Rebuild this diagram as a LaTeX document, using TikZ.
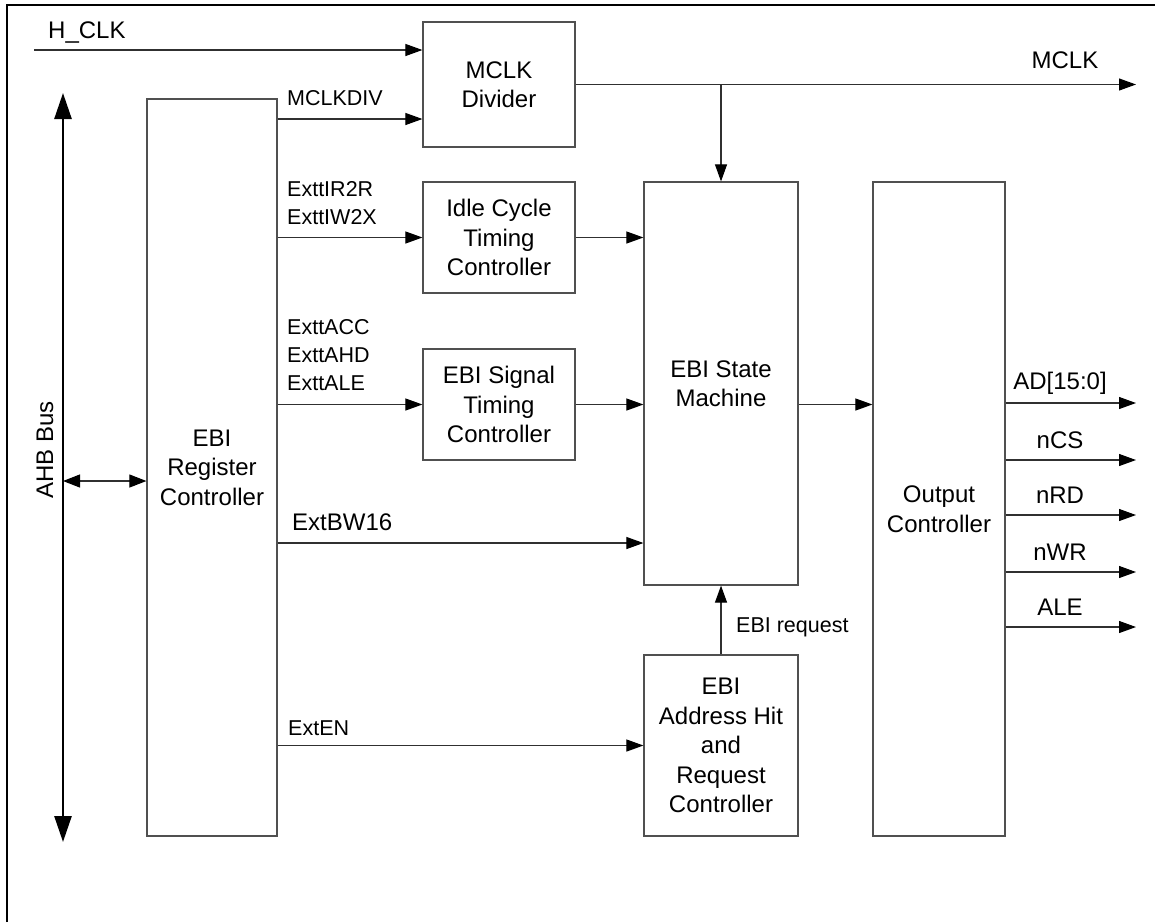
\documentclass[tikz,border=0pt]{standalone}
\usepackage{fontspec}
\setmainfont{Liberation Sans}
\usepackage{xcolor}
\usepackage{tikz}
\usetikzlibrary{arrows.meta,positioning,calc}
\definecolor{cEdge}{HTML}{505050}
\definecolor{cWire}{HTML}{303030}
\newcommand{\bigtxt}{\fontsize{24}{29.5}\selectfont}
\newcommand{\smalltxt}{\fontsize{21.5}{28}\selectfont}
\tikzset{
  blk/.style={draw=cEdge,line width=1.2pt,align=center,font=\bigtxt,inner sep=0pt},
  sig/.style={-{Triangle[length=17pt,width=12pt,color=black]},line width=1.1pt,color=cWire},
  dsig/.style={{Triangle[length=17pt,width=13pt,color=black]}-{Triangle[length=17pt,width=13pt,color=black]},line width=1.1pt,color=cWire},
  bus/.style={{Triangle[length=26pt,width=17pt]}-{Triangle[length=26pt,width=17pt]},line width=2.6pt,color=black},
  lbl/.style={font=\smalltxt,align=left,inner sep=0pt,anchor=west},
  biglbl/.style={font=\bigtxt,inner sep=0pt},
}

\begin{document}
\begin{tikzpicture}[x=1pt,y=-1pt]
    \useasboundingbox (0,0) rectangle (1155,922);
    % frame
    \draw[line width=2.5pt] (7,922) -- (7,5) -- (1155,5);
    % blocks
    \node[blk,minimum width=130pt,minimum height=737pt] (reg) at (212,467.5) {EBI\\Register\\Controller};
    \node[blk,minimum width=152pt,minimum height=125pt] (div) at (499,84.5) {MCLK\\Divider};
    \node[blk,minimum width=152pt,minimum height=111pt] (idle) at (499,237.5) {Idle Cycle\\Timing\\Controller};
    \node[blk,minimum width=152pt,minimum height=111pt] (sigt) at (499,404.5) {EBI Signal\\Timing\\Controller};
    \node[blk,minimum width=154pt,minimum height=403pt] (sm) at (721,383.5) {EBI State\\Machine};
    \node[blk,minimum width=154pt,minimum height=181pt] (addr) at (721,745.5) {EBI\\Address Hit\\and\\Request\\Controller};
    \node[blk,minimum width=132pt,minimum height=654pt] (out) at (939,509) {Output\\Controller};
    % AHB bus
    \coordinate (ahbT) at (63,93);
    \coordinate (ahbB) at (63,842);
    \coordinate (ahbM) at (63,481);
    \draw[bus] (ahbT) -- (ahbB);
    \node[biglbl,rotate=90] (ahb) at (45,450) {AHB Bus};
    \draw[dsig] (ahbM) -- (ahbM -| reg.west);
    % clock
    \coordinate (hclk) at (34,50);
    \coordinate (mclk) at (1136,84.5);
    \draw[sig] (hclk) -- (hclk -| div.west);
    \node[biglbl,anchor=west] (hclkl) at (48,32) {H\_CLK};
    \draw[sig] (div.east) -- (mclk);
    \node[biglbl] (mclkl) at (1065,60) {MCLK};
    \draw[sig] (sm.north |- div.east) -- (sm.north);
    % register outputs
    \draw[sig] (reg.east |- 0,119) -- (div.west |- 0,119);
    \node[lbl] (mdivl) at (287,98) {MCLKDIV};
    \draw[sig] (reg.east |- idle.west) -- (idle.west);
    \node[lbl] (idlel) at (287,203) {ExttIR2R\\ExttIW2X};
    \draw[sig] (reg.east |- sigt.west) -- (sigt.west);
    \node[lbl] (sigl) at (287,355) {ExttACC\\ExttAHD\\ExttALE};
    \draw[sig] (reg.east |- 0,543) -- (sm.west |- 0,543);
    \node[biglbl,anchor=west] (bwl) at (292,522) {ExtBW16};
    \draw[sig] (reg.east |- addr.west) -- (addr.west);
    \node[lbl] (enl) at (288,728) {ExtEN};
    % into state machine
    \draw[sig] (idle.east) -- (idle.east -| sm.west);
    \draw[sig] (sigt.east) -- (sigt.east -| sm.west);
    \draw[sig] (addr.north) -- (sm.south);
    \node[lbl] (reql) at (736,627) {EBI request};
    \draw[sig] (sm.east |- sigt.east) -- (out.west |- sigt.east);
    % output pins
    \foreach \pin/\y [count=\i] in {AD[15:0]/403,nCS/460,nRD/515,nWR/572,ALE/627}{
      \coordinate (o\i) at (1136,\y);
      \draw[sig] (out.east |- o\i) -- (o\i);
      \node[biglbl] (ol\i) at (1060,\y-20) {\pin};
    }
  \end{tikzpicture}
\end{document}
